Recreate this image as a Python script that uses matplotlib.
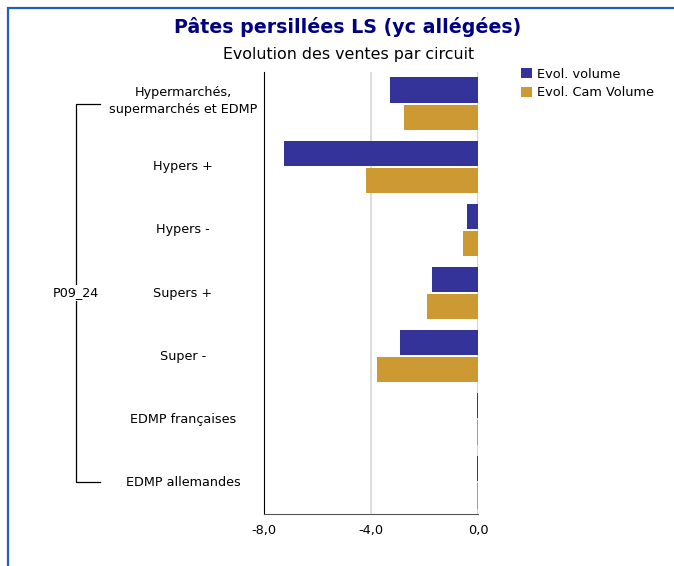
import matplotlib.pyplot as plt
import matplotlib.transforms as mtransforms
from matplotlib.patches import Rectangle, Patch
from matplotlib.lines import Line2D
import numpy as np

plt.rcParams['font.family'] = ['DejaVu Sans']

circuits = ['Hypermarchés,\nsupermarchés et EDMP', 'Hypers +', 'Hypers -', 'Supers +',
            'Super -', 'EDMP françaises', 'EDMP allemandes']
evol_volume = [-3.3, -7.25, -0.41, -1.72, -2.92, -0.05, -0.04]
evol_cam_volume = [-2.77, -4.19, -0.56, -1.91, -3.78, -0.03, -0.02]
periode = 'P09_24'

W, H = 674, 566
bleu = '#333399'
ocre = '#CC9933'

fig = plt.figure(figsize=(W / 100, H / 100), dpi=100)

# cadre bleu
fig.patches.append(Rectangle((8 / W, -0.1), 1.2, 1 - 8 / H + 0.1, transform=fig.transFigure,
                             fill=False, edgecolor='#1f62b8', linewidth=1.6))

ax = fig.add_axes([264 / W, (H - 514) / H, (478 - 264) / W, (514 - 72) / H])

y = np.arange(len(circuits))
h = 0.4
ax.barh(y - 0.215, evol_volume, height=h, color=bleu, label='Evol. volume')
ax.barh(y + 0.215, evol_cam_volume, height=h, color=ocre, label='Evol. Cam Volume')

ax.set_xlim(-8, 0)
ax.set_ylim(len(circuits) - 0.5, -0.5)
ax.set_xticks([-8, -4, 0])
ax.set_xticklabels(['-8,0', '-4,0', '0,0'], fontsize=9.3)
ax.tick_params(axis='x', length=0, pad=7)
ax.set_yticks([])
ax.axvline(-4, color='#d9d9d9', linewidth=1.3, zorder=0)
ax.axvline(0, color='#d0d0d0', linewidth=1.3, zorder=0)
for s in ['top', 'right']:
    ax.spines[s].set_visible(False)
ax.spines['left'].set_color('black')
ax.spines['bottom'].set_color('#555555')

# libellés des circuits
trans = mtransforms.blended_transform_factory(fig.transFigure, ax.transData)
for i, lab in enumerate(circuits):
    ax.text(183 / W, i - (0.04 if i == 0 else 0), lab, transform=trans, ha='center',
            va='center', fontsize=9.2, linespacing=1.45)

# accolade de période
x0, x1 = 76 / W, 100 / W
ax.add_line(Line2D([x1, x0, x0, x1], [0, 0, len(circuits) - 1, len(circuits) - 1],
                   transform=trans, color='black', linewidth=0.9, clip_on=False))
ax.text(x0, 3, periode, transform=trans, ha='center', va='center', fontsize=9.2,
        bbox=dict(facecolor='white', edgecolor='none', pad=1))

fig.text(0.5 * (175 + 521) / W, 1 - 27 / H, 'Pâtes persillées LS (yc allégées)',
         ha='center', va='center', fontsize=13.7, fontweight='bold', color='#000080')
fig.text(0.5 * (224 + 474) / W, 1 - 55 / H, 'Evolution des ventes par circuit',
         ha='center', va='center', fontsize=11.4)

handles = [Patch(facecolor=bleu), Patch(facecolor=ocre)]
fig.legend(handles, ['Evol. volume', 'Evol. Cam Volume'], loc='upper left',
           bbox_to_anchor=(509 / W, 1 - 56 / H), frameon=False, fontsize=9.3,
           handlelength=0.85, handleheight=0.85, handletextpad=0.45, labelspacing=0.45)

fig.savefig('out.png', dpi=100)
